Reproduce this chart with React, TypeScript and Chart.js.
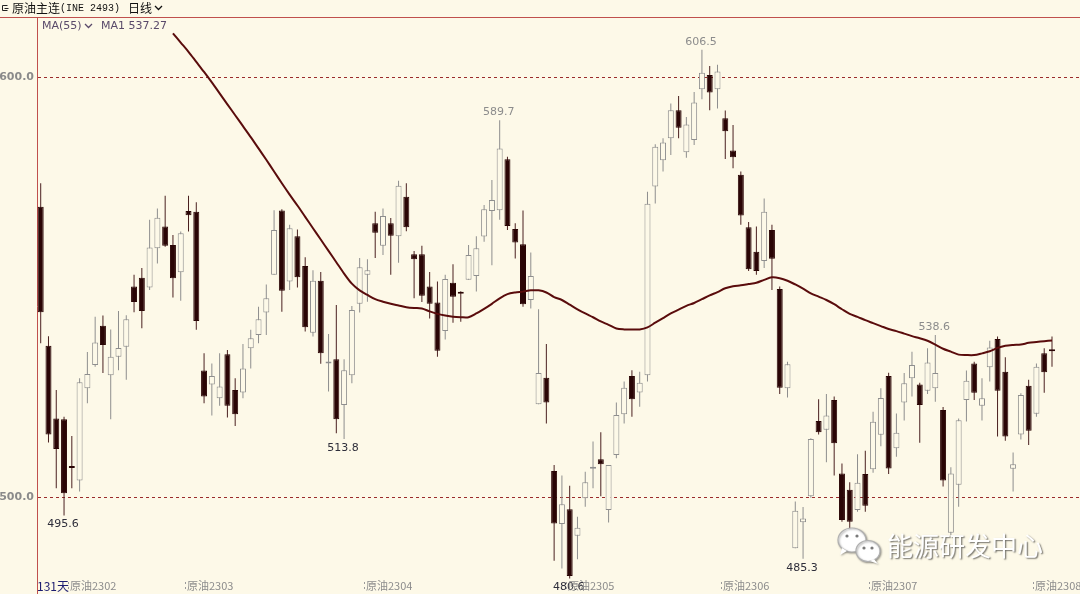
import React, { useEffect, useRef } from 'react';
import { Chart, registerables } from 'chart.js';

Chart.register(...registerables);

// ---- data ----
const OPEN = [
  569.1, 536.0, 518.7, 518.5, 507.1, 503.9, 525.9, 531.4, 540.8, 529.0,
  533.4, 535.8, 550.1, 552.2, 549.9, 559.2, 564.4, 560.0, 553.5, 568.1,
  567.9, 530.1, 526.8, 523.5, 534.0, 525.5, 524.9, 535.4, 538.6, 543.9,
  552.9, 568.2, 551.3, 562.1, 555.0, 539.1, 551.5, 531.8, 532.8, 521.9,
  529.0, 546.0, 552.9, 565.2, 559.8, 565.2, 562.1, 571.5, 557.8, 557.8,
  550.1, 546.3, 539.5, 551.0, 548.7, 551.7, 552.6, 562.0, 568.1, 568.3,
  580.4, 563.8, 560.2, 546.9, 522.1, 528.4, 506.2, 493.6, 497.1, 490.8,
  499.7, 506.7, 509.0, 496.9, 510.0, 519.7, 528.8, 524.9, 529.0, 573.9,
  580.2, 585.4, 592.1, 582.1, 585.0, 597.1, 600.5, 597.1, 590.2, 582.5,
  576.7, 564.2, 558.4, 556.2, 563.6, 549.5, 525.9, 487.8, 494.0, 500.2,
  518.1, 516.0, 523.1, 505.6, 501.7, 496.9, 505.5, 506.6, 514.8, 528.8,
  511.6, 522.5, 528.3, 526.8, 525.3, 525.9, 520.7, 491.5, 502.9, 523.1,
  531.8, 521.7, 530.9, 537.6, 529.8, 506.7, 514.9, 526.5, 519.8, 534.2,
  534.9,
];
const HIGH = [
  574.7, 538.3, 525.5, 519.1, 514.5, 528.3, 534.5, 542.9, 543.2, 539.9,
  544.3, 543.3, 552.9, 554.5, 566.0, 568.7, 571.7, 562.4, 563.2, 571.7,
  570.2, 534.2, 531.8, 534.2, 535.0, 528.3, 536.4, 539.8, 545.3, 550.6,
  568.3, 568.5, 564.8, 563.7, 557.1, 554.0, 553.6, 538.8, 545.7, 532.8,
  545.5, 556.9, 556.6, 567.9, 568.7, 566.4, 575.3, 574.7, 558.6, 559.8,
  553.6, 551.3, 552.9, 555.4, 549.0, 560.0, 562.1, 569.5, 575.5, 589.7,
  581.0, 565.2, 568.2, 558.2, 544.7, 536.4, 507.6, 505.1, 502.7, 495.3,
  506.0, 513.2, 515.4, 507.6, 522.5, 527.5, 530.2, 529.8, 572.7, 584.0,
  585.4, 593.7, 595.5, 590.5, 596.4, 606.5, 602.6, 602.9, 592.0, 588.6,
  577.5, 565.5, 564.4, 571.1, 564.8, 550.1, 532.2, 498.9, 497.6, 514.0,
  523.3, 524.5, 523.9, 508.0, 503.5, 510.2, 511.0, 520.3, 525.9, 529.6,
  519.9, 529.5, 534.6, 527.2, 535.4, 538.6, 521.4, 507.1, 518.7, 530.1,
  532.2, 528.3, 537.2, 538.2, 533.3, 510.6, 524.7, 527.9, 531.8, 535.4,
  538.2,
];
const LOW = [
  536.6, 513.0, 502.1, 495.6, 502.1, 501.3, 522.3, 531.0, 529.5, 518.5,
  530.2, 527.9, 544.0, 540.2, 549.3, 555.6, 559.6, 547.5, 546.7, 563.2,
  539.8, 522.3, 519.4, 521.7, 518.9, 516.9, 523.5, 530.6, 536.6, 538.6,
  552.9, 544.1, 549.3, 549.9, 539.4, 538.2, 531.7, 525.1, 515.2, 513.8,
  527.1, 543.9, 546.5, 556.9, 557.6, 552.9, 555.8, 563.3, 547.3, 546.4,
  542.5, 533.4, 537.5, 541.5, 541.7, 551.7, 548.9, 560.8, 555.2, 566.0,
  563.6, 556.8, 545.3, 544.9, 522.1, 517.5, 484.8, 483.0, 480.6, 485.2,
  497.7, 502.1, 500.2, 493.9, 509.2, 517.5, 519.1, 521.5, 527.5, 569.9,
  577.5, 581.4, 585.4, 580.8, 583.8, 594.7, 592.1, 592.5, 580.5, 578.3,
  564.8, 553.8, 552.9, 554.5, 549.3, 524.5, 523.7, 487.8, 485.3, 499.8,
  514.9, 508.3, 505.1, 494.1, 492.1, 496.5, 496.5, 505.8, 512.1, 505.5,
  509.6, 518.2, 523.9, 512.9, 524.5, 522.7, 502.5, 490.9, 497.7, 518.0,
  523.1, 518.2, 527.5, 514.4, 513.4, 501.3, 513.7, 512.4, 519.1, 524.8,
  531.0,
];
const CLOSE = [
  544.0, 514.9, 511.4, 500.9, 506.9, 527.3, 529.3, 536.8, 536.2, 533.4,
  535.5, 542.3, 546.4, 544.3, 559.4, 566.5, 559.8, 552.1, 562.8, 567.1,
  541.9, 523.9, 528.8, 526.3, 521.7, 519.7, 530.6, 537.8, 542.3, 547.3,
  563.6, 549.1, 564.0, 552.3, 540.4, 551.5, 534.2, 531.9, 518.5, 530.2,
  544.5, 554.7, 554.0, 562.9, 566.9, 562.2, 574.1, 564.2, 556.6, 547.9,
  546.0, 534.8, 551.9, 547.7, 548.4, 557.6, 559.2, 568.5, 570.7, 583.0,
  564.5, 560.6, 545.9, 552.6, 529.5, 522.5, 493.7, 498.3, 481.2, 492.7,
  503.5, 506.9, 507.8, 507.6, 519.5, 526.0, 523.3, 527.2, 569.8, 583.4,
  584.4, 592.1, 587.9, 588.7, 593.9, 601.0, 596.3, 601.3, 587.1, 580.9,
  567.0, 554.2, 553.8, 567.9, 556.7, 526.0, 531.6, 496.7, 494.9, 513.8,
  515.4, 519.4, 512.8, 494.5, 494.1, 503.4, 497.9, 517.9, 523.6, 506.8,
  515.3, 527.1, 531.4, 521.9, 532.0, 529.5, 503.9, 505.6, 518.3, 527.7,
  524.8, 523.5, 535.6, 525.3, 514.4, 507.8, 524.3, 515.8, 531.0, 529.7,
  534.7,
];
// MA(55), starting at candle MA_START
const MA_START = 17;
const MA55 = [
  610.4, 608.2, 606.0, 603.6, 601.2, 598.7, 596.1, 593.5, 590.9, 588.3,
  585.7, 583.0, 580.3, 577.5, 574.7, 572.0, 569.4, 566.7, 564.0, 561.3,
  558.6, 555.9, 553.2, 550.8, 549.2, 548.1, 547.1, 546.5, 546.0, 545.6,
  545.2, 545.0, 544.9, 544.2, 543.6, 543.2, 542.9, 542.8, 542.8, 543.7,
  544.8, 546.0, 547.3, 548.3, 548.7, 548.9, 549.2, 549.2, 548.7, 547.6,
  546.9, 545.8, 544.7, 543.7, 542.8, 541.8, 541.0, 540.1, 539.9, 539.9,
  539.9, 540.4, 541.5, 542.6, 543.7, 544.6, 545.5, 546.2, 547.1, 548.0,
  548.8, 549.7, 550.2, 550.4, 550.7, 551.0, 551.7, 552.3, 552.1, 551.5,
  550.6, 549.6, 548.5, 547.7, 546.9, 545.9, 544.7, 543.6, 542.9, 542.1,
  541.4, 540.7, 540.0, 539.5, 538.9, 538.3, 537.8, 537.2, 536.3, 535.3,
  534.6, 533.9, 533.8, 533.8, 534.2, 534.7, 535.5, 536.0, 536.2, 536.3,
  536.7, 536.9, 537.1, 537.27,
];
const CONTRACT_LABELS = ['原油2302', '原油2303', '原油2304', '原油2305', '原油2306', '原油2307', '原油2308'];
const CONTRACT_IDX = [4, 19, 42, 68, 88, 107, 128];
const MARK_IDX = [85, 59, 115, 3, 39, 98, 68];
const MARK_KIND = ['high', 'high', 'high', 'low', 'low', 'low', 'low'];
const Y_TICKS = [500, 600];

// ---- styles ----
const BG = '#fdf9e8';
const DOWN = '#2a0505';
const DOWN_WICK = '#4a2020';
const UP = '#8e8e8e';
const RED_LINE = '#c0504d';
const GRID = '#9b2c2c';

const isUp = (i: number) => CLOSE[i] >= OPEN[i];

const chevron = (ctx: CanvasRenderingContext2D, x: number, y: number, color: string) => {
  ctx.save();
  ctx.strokeStyle = color;
  ctx.lineWidth = 1.3;
  ctx.beginPath();
  ctx.moveTo(x, y);
  ctx.lineTo(x + 3.5, y + 3.5);
  ctx.lineTo(x + 7, y);
  ctx.stroke();
  ctx.restore();
};

const overlayPlugin = {
  id: 'overlay',
  beforeDraw(chart: any) {
    const { ctx, width, height } = chart;
    ctx.save();
    ctx.fillStyle = BG;
    ctx.fillRect(0, 0, width, height);
    ctx.restore();
  },
  afterDraw(chart: any) {
    const { ctx, width } = chart;
    const xs = chart.scales.x;
    const ys = chart.scales.y;
    ctx.save();
    // header separator
    ctx.strokeStyle = RED_LINE;
    ctx.lineWidth = 1;
    ctx.beginPath();
    ctx.moveTo(0, 17.5);
    ctx.lineTo(width, 17.5);
    ctx.stroke();
    // header icon
    ctx.strokeStyle = '#222';
    ctx.beginPath();
    ctx.moveTo(7.5, 5.5);
    ctx.lineTo(2.5, 5.5);
    ctx.lineTo(2.5, 10.5);
    ctx.lineTo(7.5, 10.5);
    ctx.moveTo(4.5, 8.5);
    ctx.lineTo(8.5, 8.5);
    ctx.stroke();
    // header text
    ctx.fillStyle = '#111';
    ctx.textBaseline = 'middle';
    ctx.textAlign = 'left';
    ctx.font = '12px "Noto Sans CJK SC"';
    ctx.fillText('原油主连', 12, 8.5);
    ctx.font = '10px "Liberation Mono"';
    ctx.fillText('(INE 2493)', 60, 8.5);
    ctx.font = '12px "Noto Sans CJK SC"';
    ctx.fillText('日线', 128, 8.5);
    chevron(ctx, 155, 6, '#111');

    // legend
    ctx.font = '11px "DejaVu Sans"';
    ctx.fillStyle = '#5a4a6a';
    ctx.fillText('MA(55)', 42, 26);
    chevron(ctx, 85, 24, '#5a4a6a');
    ctx.fillText('MA1 ' + MA55[MA55.length - 1].toFixed(2), 101, 26);

    // high / low marks
    ctx.textAlign = 'center';
    ctx.font = '11px "DejaVu Sans"';
    MARK_IDX.forEach((i, k) => {
      const high = MARK_KIND[k] === 'high';
      const v = high ? HIGH[i] : LOW[i];
      const x = xs.getPixelForValue(i) - 1;
      const y = ys.getPixelForValue(v) + (high ? -8 : 9);
      ctx.fillStyle = high ? '#8c8c8c' : '#2e2e3a';
      ctx.fillText(v.toFixed(1), x, y);
    });

    // bottom contract labels
    const pitch = xs.getPixelForValue(1) - xs.getPixelForValue(0);
    ctx.textAlign = 'left';
    ctx.font = '11px "Noto Sans CJK SC"';
    CONTRACT_IDX.forEach((i, k) => {
      const px = Math.round(xs.getPixelForValue(i) - pitch / 2);
      ctx.fillStyle = '#9a9a9a';
      ctx.fillRect(px, 582, 1, 2);
      ctx.fillRect(px, 587, 1, 2);
      ctx.fillStyle = '#8c8c8c';
      ctx.fillText(CONTRACT_LABELS[k], px + 2, 586);
    });
    // day count
    ctx.fillStyle = '#1c1c70';
    ctx.font = '12px "Noto Sans CJK SC"';
    ctx.fillText(String(OPEN.length) + '天', 37, 586);

    // watermark
    ctx.save();
    ctx.lineWidth = 1.2;
    ctx.shadowColor = 'rgba(0,0,0,0.35)';
    ctx.shadowOffsetX = 1;
    ctx.shadowOffsetY = 1;
    ctx.shadowBlur = 2;
    ctx.fillStyle = '#ffffff';
    ctx.strokeStyle = '#b0b0b0';
    ctx.beginPath();
    ctx.ellipse(852, 540, 14, 12, 0, 0, Math.PI * 2);
    ctx.fill();
    ctx.stroke();
    ctx.beginPath();
    ctx.moveTo(842, 548);
    ctx.lineTo(840, 555);
    ctx.lineTo(847, 551);
    ctx.fill();
    ctx.beginPath();
    ctx.ellipse(868, 551, 12, 10.5, 0, 0, Math.PI * 2);
    ctx.fill();
    ctx.stroke();
    ctx.beginPath();
    ctx.moveTo(874, 559);
    ctx.lineTo(878, 564);
    ctx.lineTo(870, 561);
    ctx.fill();
    ctx.shadowColor = 'transparent';
    ctx.fillStyle = '#7a7a7a';
    [[847, 536], [857, 536], [864, 548], [872, 548]].forEach(([ex, ey]) => {
      ctx.beginPath();
      ctx.arc(ex, ey, 1.6, 0, Math.PI * 2);
      ctx.fill();
    });
    ctx.shadowColor = 'rgba(0,0,0,0.55)';
    ctx.shadowOffsetX = 1.2;
    ctx.shadowOffsetY = 1.2;
    ctx.shadowBlur = 1.5;
    ctx.font = '26px "Noto Sans CJK SC"';
    ctx.textAlign = 'left';
    ctx.textBaseline = 'middle';
    ctx.fillStyle = '#ffffff';
    ctx.fillText('能源研发中心', 887, 546);
    ctx.restore();

    ctx.restore();
  },
};

export default function App() {
  const canvasRef = useRef<HTMLCanvasElement | null>(null);

  useEffect(() => {
    const canvas = canvasRef.current;
    if (!canvas) return;
    const idx = OPEN.map((_, i) => i);
    const wickData = idx.map((i) => ({ x: i, y: [LOW[i], HIGH[i]] }));
    const bodyData = idx.map((i) => ({ x: i, y: [OPEN[i], CLOSE[i]] }));
    const maData = MA55.map((v, k) => ({ x: MA_START + k, y: v }));

    const chart = new Chart(canvas, {
      type: 'bar',
      data: {
        datasets: [
          {
            type: 'line',
            data: maData as any,
            borderColor: '#5a0c0c',
            borderWidth: 2,
            pointRadius: 0,
            tension: 0.3,
            order: 0,
          } as any,
          {
            data: bodyData as any,
            backgroundColor: idx.map((i) => (isUp(i) ? BG : DOWN)),
            borderColor: idx.map((i) => (isUp(i) ? UP : DOWN)),
            borderWidth: 1,
            borderSkipped: false,
            barThickness: 6,
            minBarLength: 2,
            inflateAmount: 0,
            grouped: false,
            order: 1,
          } as any,
          {
            data: wickData as any,
            backgroundColor: idx.map((i) => (isUp(i) ? UP : DOWN_WICK)),
            borderWidth: 0,
            barThickness: 1,
            inflateAmount: 0,
            grouped: false,
            order: 2,
          } as any,
        ],
      },
      options: {
        animation: false,
        responsive: false,
        devicePixelRatio: 1,
        layout: { padding: { top: 18, left: 0, right: 0, bottom: 0 } },
        plugins: { legend: { display: false }, tooltip: { enabled: false } },
        events: [],
        scales: {
          x: {
            type: 'linear',
            display: false,
            offset: false,
            min: -0.476,
            max: 133.6,
          },
          y: {
            type: 'linear',
            position: 'left',
            min: 476.905,
            max: 614.048,
            afterFit: (s: any) => {
              s.width = 37;
              s.paddingTop = 0;
              s.paddingBottom = 0;
            },
            afterBuildTicks: (s: any) => {
              s.ticks = Y_TICKS.map((v) => ({ value: v }));
            },
            ticks: {
              color: '#8a8a8a',
              font: { family: 'DejaVu Sans', size: 11, weight: 'bold' },
              padding: 3,
              callback: (v: any) => Number(v).toFixed(1),
            },
            grid: {
              color: GRID,
              lineWidth: 1,
              drawTicks: false,
            },
            border: {
              display: true,
              color: RED_LINE,
              width: 1,
              dash: [3, 3],
            },
          },
        },
      } as any,
      plugins: [overlayPlugin],
    });
    return () => chart.destroy();
  }, []);

  return (
    <canvas
      ref={canvasRef}
      width={1080}
      height={594}
      style={{ position: 'fixed', left: 0, top: 0, width: 1080, height: 594 }}
    />
  );
}
